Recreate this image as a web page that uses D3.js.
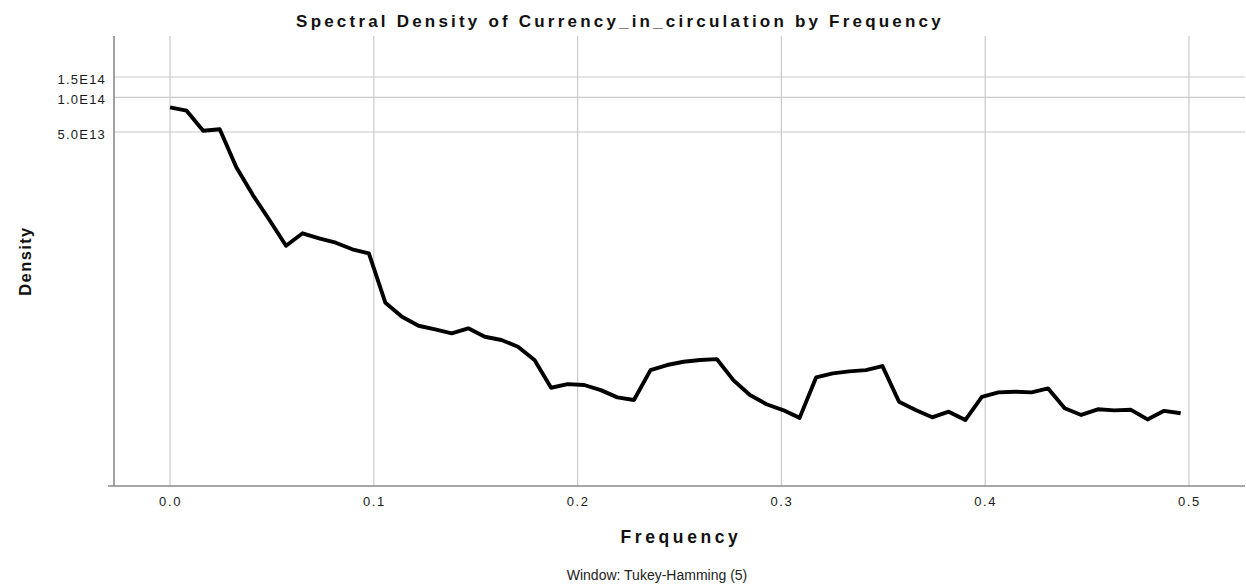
<!DOCTYPE html>
<html>
<head>
<meta charset="utf-8">
<script src="https://cdn.jsdelivr.net/npm/d3@7"></script>
<style>
  html, body { margin: 0; padding: 0; background: #fff; }
  svg { display: block; font-family: "Liberation Sans", Arial, sans-serif; }
</style>
</head>
<body>
<svg id="chart" width="1246" height="586"></svg>
<script>
// ---- data ----
const frequency = [
  0.00000, 0.00813, 0.01626, 0.02439, 0.03252, 0.04065, 0.04878, 0.05691, 0.06504, 0.07317,
  0.08130, 0.08943, 0.09756, 0.10569, 0.11382, 0.12195, 0.13008, 0.13821, 0.14634, 0.15447,
  0.16260, 0.17073, 0.17886, 0.18699, 0.19512, 0.20325, 0.21138, 0.21951, 0.22764, 0.23577,
  0.24390, 0.25203, 0.26016, 0.26829, 0.27642, 0.28455, 0.29268, 0.30081, 0.30894, 0.31707,
  0.32520, 0.33333, 0.34146, 0.34959, 0.35772, 0.36585, 0.37398, 0.38211, 0.39024, 0.39837,
  0.40650, 0.41463, 0.42276, 0.43089, 0.43902, 0.44715, 0.45528, 0.46341, 0.47154, 0.47967,
  0.48780, 0.49593
];
const density = [
  8.19e13, 7.65e13, 5.13e13, 5.28e13, 2.47e13, 1.42e13, 8.63e12, 5.16e12, 6.62e12, 5.99e12,
  5.48e12, 4.81e12, 4.44e12, 1.65e12, 1.25e12, 1.045e12, 9.72e11, 8.98e11, 9.92e11, 8.39e11,
  7.86e11, 6.87e11, 5.27e11, 3.03e11, 3.26e11, 3.20e11, 2.89e11, 2.50e11, 2.37e11, 4.31e11,
  4.77e11, 5.09e11, 5.27e11, 5.37e11, 3.53e11, 2.62e11, 2.18e11, 1.94e11, 1.66e11, 3.73e11,
  4.04e11, 4.20e11, 4.31e11, 4.67e11, 2.29e11, 1.94e11, 1.68e11, 1.88e11, 1.59e11, 2.53e11,
  2.76e11, 2.80e11, 2.76e11, 2.99e11, 2.01e11, 1.76e11, 1.97e11, 1.93e11, 1.95e11, 1.61e11,
  1.91e11, 1.82e11
];
const xTicks = [0, 0.1, 0.2, 0.3, 0.4, 0.5];
const xTickLabels = ["0.0", "0.1", "0.2", "0.3", "0.4", "0.5"];
const yTicks = [5e13, 1e14, 1.5e14];
const yTickLabels = ["5.0E13", "1.0E14", "1.5E14"];
const xDomain = [-0.0275, 0.5275];
const yDomain = [4.26e10, 3.40e14];
const titleText = "Spectral Density of Currency_in_circulation by Frequency";
const xTitle = "Frequency";
const yTitle = "Density";
const footnote = "Window: Tukey-Hamming (5)";

// ---- layout ----
const plotLeft = 114, plotRight = 1245, plotTop = 36, plotBottom = 486;
const svg = d3.select("#chart");

const x = d3.scaleLinear().domain(xDomain).range([plotLeft, plotRight]);
const y = d3.scaleLog().domain(yDomain).range([plotBottom, plotTop]);

// gridlines
const grid = svg.append("g").attr("stroke", "#c9c9c9").attr("stroke-width", 1.2);
grid.selectAll("line.v").data(xTicks).enter().append("line")
  .attr("x1", d => x(d)).attr("x2", d => x(d))
  .attr("y1", plotTop).attr("y2", plotBottom);
grid.selectAll("line.h").data(yTicks).enter().append("line")
  .attr("x1", plotLeft).attr("x2", plotRight)
  .attr("y1", d => y(d)).attr("y2", d => y(d));

// axes via d3 axis generators
const xAxis = d3.axisBottom(x).tickValues(xTicks)
  .tickFormat((d, i) => xTickLabels[i]).tickSize(0).tickPadding(11);
const gx = svg.append("g").attr("transform", `translate(0,${plotBottom})`).call(xAxis);
gx.select(".domain").remove();
gx.selectAll("text").attr("font-size", 13).attr("fill", "#1a1a1a")
  .attr("font-family", "'Liberation Sans', Arial, sans-serif")
  .style("letter-spacing", "1.6px");

const yAxis = d3.axisLeft(y).tickValues(yTicks)
  .tickFormat((d, i) => yTickLabels[i]).tickSize(0).tickPadding(8);
const gy = svg.append("g").attr("transform", `translate(${plotLeft},0)`).call(yAxis);
gy.select(".domain").remove();
gy.selectAll("text").attr("font-size", 13).attr("fill", "#1a1a1a")
  .attr("font-family", "'Liberation Sans', Arial, sans-serif")
  .attr("dy", "0.5em")
  .style("letter-spacing", "1.2px");

// axis lines
svg.append("line").attr("x1", plotLeft).attr("x2", plotLeft).attr("y1", plotTop).attr("y2", plotBottom)
  .attr("stroke", "#8a8a8a").attr("stroke-width", 1.6);
svg.append("line").attr("x1", plotLeft - 6).attr("x2", plotRight).attr("y1", plotBottom).attr("y2", plotBottom)
  .attr("stroke", "#8a8a8a").attr("stroke-width", 1.6);

// density line
const line = d3.line()
  .x((d, i) => x(frequency[i]))
  .y(d => y(d))
  .curve(d3.curveLinear);
svg.append("path").datum(density)
  .attr("d", line)
  .attr("fill", "none")
  .attr("stroke", "#000")
  .attr("stroke-width", 3.9)
  .attr("stroke-linejoin", "round")
  .attr("stroke-linecap", "butt");

// title
svg.append("text").attr("x", 620).attr("y", 27)
  .attr("text-anchor", "middle").attr("font-weight", "bold").attr("font-size", 17)
  .style("letter-spacing", "3.2px")
  .attr("fill", "#111").text(titleText);

// axis titles
svg.append("text").attr("x", 681).attr("y", 543)
  .attr("text-anchor", "middle").attr("font-weight", "bold").attr("font-size", 17.5)
  .style("letter-spacing", "3.6px")
  .attr("fill", "#111").text(xTitle);

svg.append("text")
  .attr("transform", "translate(31,261) rotate(-90)")
  .attr("text-anchor", "middle").attr("font-weight", "bold").attr("font-size", 16.5)
  .style("letter-spacing", "1.4px")
  .attr("fill", "#111").text(yTitle);

// footnote
svg.append("text").attr("x", 657).attr("y", 580)
  .attr("text-anchor", "middle").attr("font-size", 14)
  .attr("fill", "#222").text(footnote);
</script>
</body>
</html>
